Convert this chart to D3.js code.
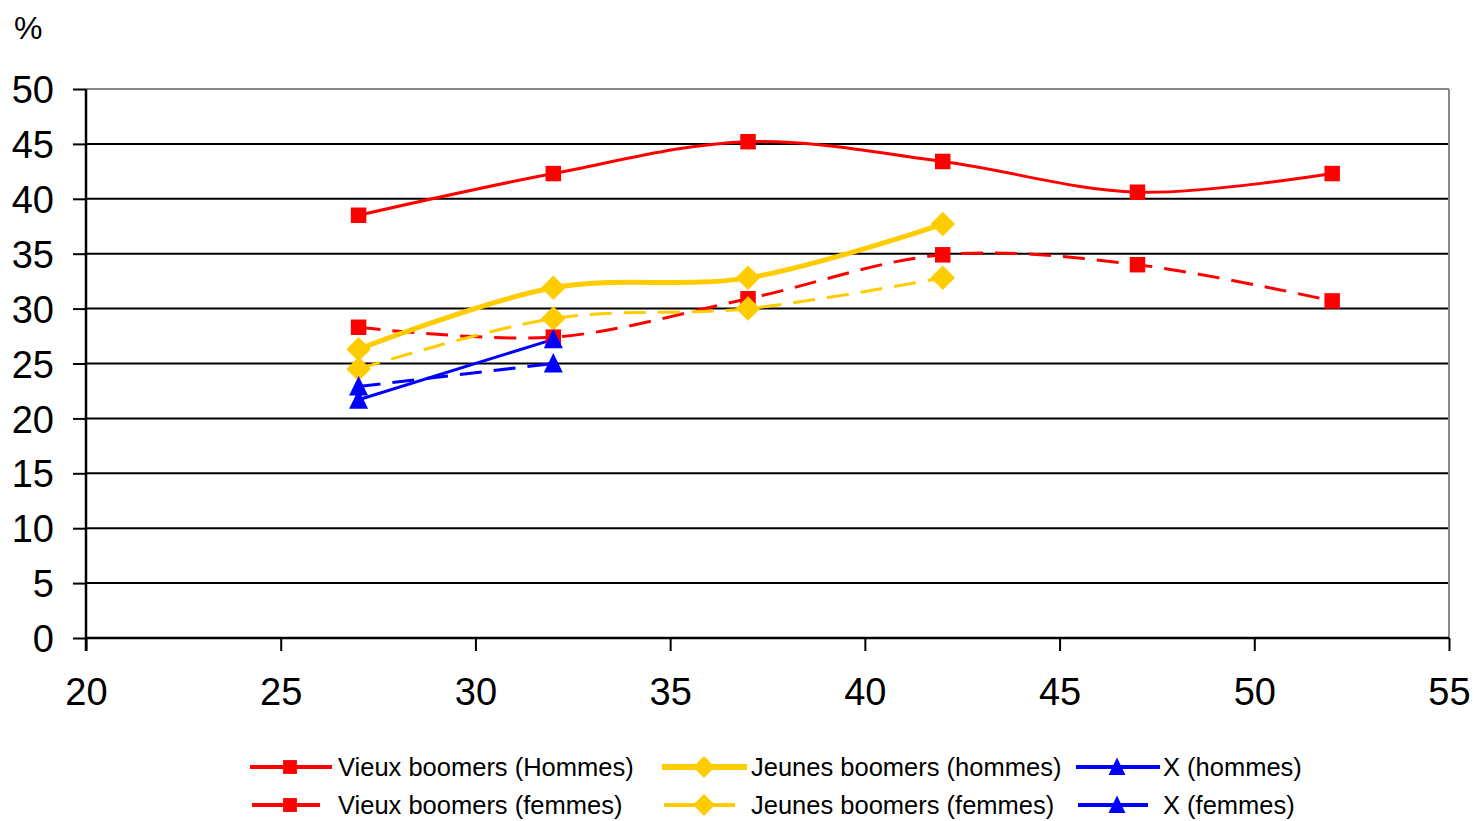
<!DOCTYPE html>
<html><head><meta charset="utf-8">
<script src="https://cdn.jsdelivr.net/npm/d3@7/dist/d3.min.js"></script>
<style>body{margin:0;background:#fff;}svg{display:block;font-family:"Liberation Sans",Arial,sans-serif;}</style>
</head><body>
<svg id="c" width="1474" height="821"></svg>
<script>
const ages = [27, 32, 37, 42, 47, 52];
const vieuxHommes = [38.5, 42.3, 45.2, 43.4, 40.6, 42.3];
const vieuxFemmes = [28.3, 27.4, 30.9, 34.9, 34.0, 30.7];
const jeunesHommes = [26.3, 31.9, 32.8, 37.7];
const jeunesFemmes = [24.5, 29.1, 30.0, 32.8];
const xHommes = [21.7, 27.2];
const xFemmes = [22.9, 25.0];
const xTicks = [20, 25, 30, 35, 40, 45, 50, 55];
const yTicks = [0, 5, 10, 15, 20, 25, 30, 35, 40, 45, 50];
const seriesNames = ["Vieux boomers (Hommes)", "Jeunes boomers (hommes)", "X (hommes)",
                     "Vieux boomers (femmes)", "Jeunes boomers (femmes)", "X (femmes)"];

const diamond = {draw(ctx, size) { const r = Math.sqrt(size / 2); ctx.moveTo(0, -r); ctx.lineTo(r, 0); ctx.lineTo(0, r); ctx.lineTo(-r, 0); ctx.closePath(); }};
const triangle = {draw(ctx, size) { const r = Math.sqrt(size) * 0.62; ctx.moveTo(0, -r * 1.05); ctx.lineTo(r * 0.95, r * 0.9); ctx.lineTo(-r * 0.95, r * 0.9); ctx.closePath(); }};

const series = [
  {name: seriesNames[0], values: vieuxHommes, color: "#ff0000", dash: null, w: 3, sym: d3.symbolSquare, size: 240},
  {name: seriesNames[1], values: jeunesHommes, color: "#ffcc00", dash: null, w: 5, sym: diamond, size: 300},
  {name: seriesNames[2], values: xHommes, color: "#0000ff", dash: null, w: 3, sym: triangle, size: 260},
  {name: seriesNames[3], values: vieuxFemmes, color: "#ff0000", dash: "22,12", w: 3, sym: d3.symbolSquare, size: 240},
  {name: seriesNames[4], values: jeunesFemmes, color: "#ffcc00", dash: "22,12", w: 3, sym: diamond, size: 300},
  {name: seriesNames[5], values: xFemmes, color: "#0000ff", dash: "22,12", w: 3, sym: triangle, size: 260}
];

const svg = d3.select("#c");
const x = d3.scaleLinear().domain([20, 55]).range([86, 1449]);
const y = d3.scaleLinear().domain([0, 50]).range([638, 89]);

// gridlines
svg.append("g").selectAll("line").data(yTicks.filter(t => t > 0)).join("line")
  .attr("x1", x(20)).attr("x2", x(55)).attr("y1", d => y(d)).attr("y2", d => y(d))
  .attr("stroke", d => d === 50 ? "#888" : "#000").attr("stroke-width", 2);
// right border
svg.append("line").attr("x1", x(55)).attr("x2", x(55)).attr("y1", y(50)).attr("y2", y(0))
  .attr("stroke", "#888").attr("stroke-width", 2);

// y axis
const yAxis = svg.append("g").attr("transform", `translate(${x(20)},0)`)
  .call(d3.axisLeft(y).tickValues(yTicks).tickSize(13).tickPadding(19).tickFormat(d3.format("d")));
yAxis.select(".domain").remove();
yAxis.selectAll(".tick line").attr("stroke", "#000").attr("stroke-width", 2);
yAxis.selectAll("text").attr("font-size", 38).attr("fill", "#000").attr("dy", "0.36em");
svg.append("line").attr("x1", x(20)).attr("x2", x(20)).attr("y1", y(50)).attr("y2", y(0) + 13)
  .attr("stroke", "#000").attr("stroke-width", 2.5);

// x axis
const xAxis = svg.append("g").attr("transform", `translate(0,${y(0)})`)
  .call(d3.axisBottom(x).tickValues(xTicks).tickSize(13).tickPadding(27).tickFormat(d3.format("d")));
xAxis.select(".domain").remove();
xAxis.selectAll(".tick line").attr("stroke", "#000").attr("stroke-width", 2);
xAxis.selectAll("text").attr("font-size", 38).attr("fill", "#000");
svg.append("line").attr("x1", x(20)).attr("x2", x(55)).attr("y1", y(0)).attr("y2", y(0))
  .attr("stroke", "#000").attr("stroke-width", 2.5);

svg.append("text").attr("x", 14).attr("y", 39).attr("font-size", 32).text("%");

// lines
const line = d3.line().x((d, i) => x(ages[i])).y(d => y(d)).curve(d3.curveCatmullRom.alpha(0.5));
const drawOrder = [3, 4, 5, 1, 2, 0];
drawOrder.forEach(k => {
  const s = series[k];
  svg.append("path").datum(s.values).attr("d", line).attr("fill", "none")
    .attr("stroke", s.color).attr("stroke-width", s.w)
    .attr("stroke-dasharray", s.dash);
});
drawOrder.forEach(k => {
  const s = series[k];
  svg.append("g").selectAll("path").data(s.values).join("path")
    .attr("transform", (d, i) => `translate(${x(ages[i])},${y(d)})`)
    .attr("d", d3.symbol().type(s.sym).size(s.size)).attr("fill", s.color);
});

// legend
const legPos = [
  {lx1: 250, lx2: 332, mx: 290, tx: 338, ty: 767},
  {lx1: 662, lx2: 747, mx: 704, tx: 751, ty: 767},
  {lx1: 1076, lx2: 1160, mx: 1117, tx: 1163, ty: 767},
  {lx1: 252, lx2: 320, mx: 290, tx: 338, ty: 805},
  {lx1: 664, lx2: 735, mx: 704, tx: 751, ty: 805},
  {lx1: 1078, lx2: 1148, mx: 1117, tx: 1163, ty: 805}
];
series.forEach((s, i) => {
  const p = legPos[i];
  const g = svg.append("g");
  g.append("line").attr("x1", p.lx1).attr("x2", p.lx2).attr("y1", p.ty).attr("y2", p.ty)
    .attr("stroke", s.color).attr("stroke-width", s.w === 5 ? 6 : 4);
  g.append("path").attr("transform", `translate(${p.mx},${p.ty})`)
    .attr("d", d3.symbol().type(s.sym).size(s.size * 0.8)).attr("fill", s.color);
  g.append("text").attr("x", p.tx).attr("y", p.ty).attr("dy", "0.34em")
    .attr("font-size", 25.5).attr("fill", "#000").text(s.name);
});
</script>
</body></html>
